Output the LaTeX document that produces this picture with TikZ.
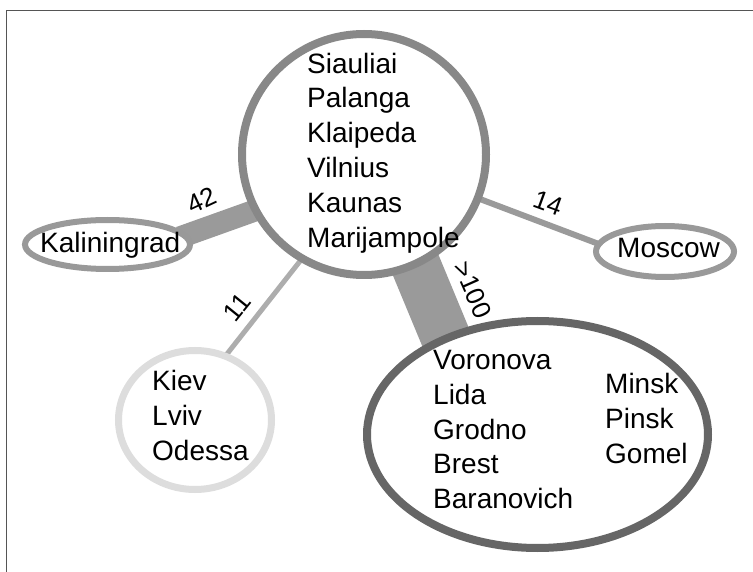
\documentclass[tikz,border=0pt]{standalone}
\usepackage{fontspec}
\setmainfont{Liberation Sans}
\usetikzlibrary{shapes.geometric,backgrounds}

\definecolor{framegray}{HTML}{555555}
\definecolor{balticgray}{HTML}{888888}
\definecolor{belarusgray}{HTML}{666666}
\definecolor{ukrainegray}{HTML}{DDDDDD}
\definecolor{outergray}{HTML}{999999}
\definecolor{flowgray}{HTML}{9A9A9A}

\tikzset{
  region/.style={ellipse, draw, fill=white, inner sep=0pt},
  cities/.style={font=\fontsize{28}{34.8}\selectfont, align=left, inner sep=0pt},
  flow/.style={draw=flowgray, shorten <=-8pt, shorten >=-8pt},
  flowlabel/.style={font=\fontsize{26}{30}\selectfont, inner sep=0pt},
}

\begin{document}
\begin{tikzpicture}[x=1pt, y=-1pt]
			%%%%% START %%%%%
			\useasboundingbox (0, 0) rectangle (753, 572);
			\draw[framegray, line width=1pt] (6, 572) -- (6, 11) -- (753, 11);
			
			% regions
			\node[region, draw=balticgray, line width=8pt, minimum width=244, minimum height=241] (baltic) at (364, 154.5) {};
			\node[region, draw=belarusgray, line width=8pt, minimum width=341, minimum height=227] (belarus) at (537.5, 434.5) {};
			\node[region, draw=ukrainegray, line width=7pt, minimum width=153, minimum height=139] (ukraine) at (195, 420) {};
			\node[region, draw=outergray, line width=6pt, minimum width=165, minimum height=49] (kalin) at (107.5, 244.5) {};
			\node[region, draw=outergray, line width=6pt, minimum width=138, minimum height=51] (moscow) at (665, 251.5) {};
			
			% flows
			\begin{pgfonlayer}{background}
				\draw[flow, line width=22pt] (kalin.7) -- (baltic.207);
				\draw[flow, line width=50pt] (baltic.295) -- (belarus.133);
				\draw[flow, line width=6pt] (baltic.339) -- (moscow.173);
				\draw[flow, draw=outergray!80, line width=5pt] (baltic.239) -- (ukraine.64);
			\end{pgfonlayer}
			
			\node[flowlabel, rotate=25] (lab42) at (202, 200) {42};
			\node[flowlabel, rotate=-66] (lab100) at (473, 290) {>100};
			\node[flowlabel, rotate=-20] (lab14) at (548, 203) {14};
			\node[flowlabel, rotate=51] (lab11) at (237, 307) {11};
			
			% city names
			\node[cities, anchor=north west] (baltictxt) at (307, 52.6) {Siauliai\\Palanga\\Klaipeda\\Vilnius\\Kaunas\\Marijampole};
			\node[cities, anchor=north west] (belarustxt) at (433, 350) {Voronova\\Lida\\Grodno\\Brest\\Baranovich};
			\node[cities, anchor=north west] (belarustxtb) at (605, 373) {Minsk\\Pinsk\\Gomel};
			\node[cities, anchor=north west] (ukrainetxt) at (152, 370) {Kiev\\Lviv\\Odessa};
			\node[cities, anchor=base west] (kalintxt) at (40, 253) {Kaliningrad};
			\node[cities, anchor=base west] (moscowtxt) at (617, 258) {Moscow};
			
			%%%%% END %%%%%
\end{tikzpicture}
\end{document}
